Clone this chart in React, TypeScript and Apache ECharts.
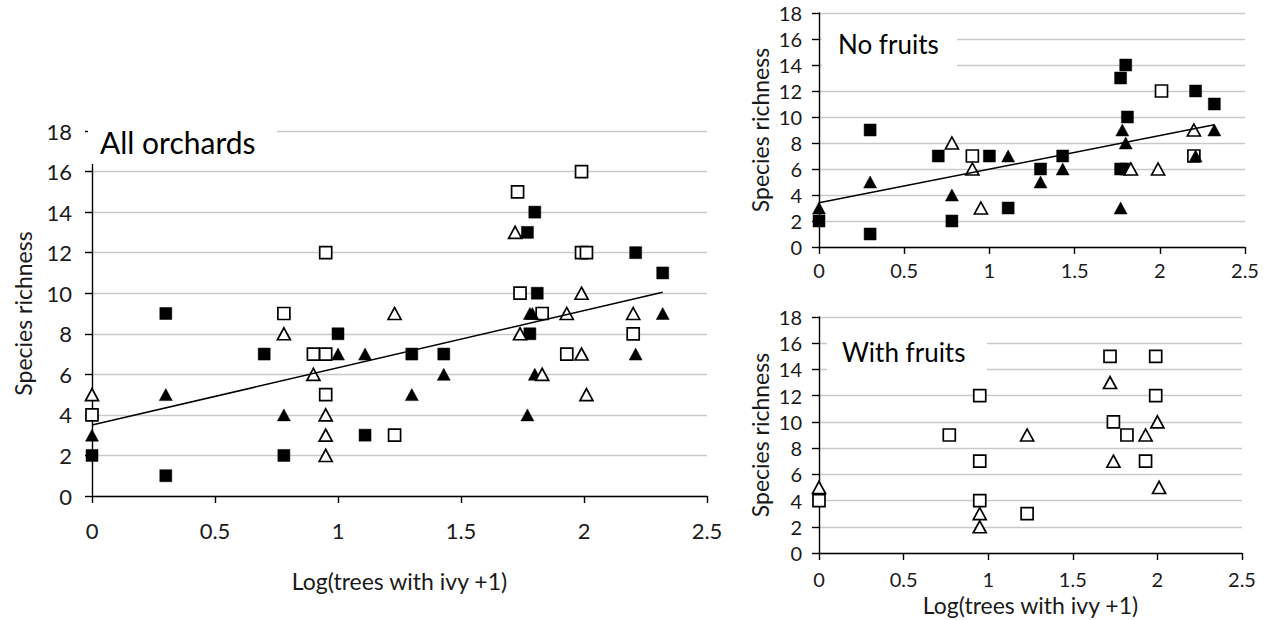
import React, { useEffect, useRef } from "react";
import * as echarts from "echarts";

// ---- All orchards ----
const allFilledSquare = [[0, 2], [0.3, 9], [0.3, 1], [0.7, 7], [0.78, 2], [1.0, 8], [1.11, 3], [1.3, 7], [1.43, 7], [1.77, 13], [1.8, 14], [1.81, 10], [1.78, 8], [2.21, 12], [2.32, 11]];
const allOpenSquare = [[0, 4], [0.78, 9], [0.9, 7], [0.95, 7], [0.95, 12], [0.95, 5], [1.23, 3], [1.73, 15], [1.99, 16], [1.99, 12], [2.01, 12], [1.74, 10], [1.83, 9], [2.2, 8], [1.93, 7]];
const allFilledTriangle = [[0, 3], [0.3, 5], [0.78, 4], [1.0, 7], [1.11, 7], [1.3, 5], [1.43, 6], [1.78, 9], [1.79, 9], [1.8, 6], [1.77, 4], [2.21, 7], [2.32, 9]];
const allOpenTriangle = [[0, 5], [0.78, 8], [0.9, 6], [0.95, 4], [0.95, 3], [0.95, 2], [1.23, 9], [1.72, 13], [1.74, 8], [1.83, 6], [1.93, 9], [1.99, 10], [1.99, 7], [2.01, 5], [2.2, 9]];
const allTrend = [[0, 3.5], [2.32, 10.05]];

// ---- No fruits ----
const nfFilledSquare = [[0, 2], [0.3, 9], [0.3, 1], [0.7, 7], [0.78, 2], [1.0, 7], [1.11, 3], [1.3, 6], [1.43, 7], [1.77, 13], [1.8, 14], [1.81, 10], [1.77, 6], [1.8, 6], [2.21, 12], [2.32, 11]];
const nfOpenSquare = [[0.9, 7], [2.01, 12], [2.2, 7]];
const nfFilledTriangle = [[0, 3], [0.3, 5], [0.78, 4], [1.11, 7], [1.3, 5], [1.43, 6], [1.78, 9], [1.8, 8], [1.77, 3], [2.21, 7], [2.32, 9]];
const nfOpenTriangle = [[0.78, 8], [0.9, 6], [0.95, 3], [1.83, 6], [1.99, 6], [2.2, 9]];
const nfTrend = [[0, 3.4], [2.32, 9.4]];

// ---- With fruits ----
const wfOpenSquare = [[0, 4], [0.77, 9], [0.95, 12], [0.95, 7], [0.95, 4], [1.23, 3], [1.72, 15], [1.99, 15], [1.99, 12], [1.74, 10], [1.82, 9], [1.93, 7]];
const wfOpenTriangle = [[0, 5], [0.95, 3], [0.95, 2], [1.23, 9], [1.72, 13], [2.0, 10], [1.93, 9], [1.74, 7], [2.01, 5]];

const panelTitles = ["All orchards", "No fruits", "With fruits"];
const xAxisName = "Log(trees with ivy +1)";
const yAxisName = "Species richness";

const FONT = "Lato, 'DejaVu Sans', sans-serif";
const TXT = "#1a1a1a";
const NAME_FS = 23;

function sc(data: number[][], idx: number, symbol: string, filled: boolean) {
  const tri = symbol === "triangle";
  return {
    type: "scatter",
    xAxisIndex: idx,
    yAxisIndex: idx,
    data,
    symbol,
    symbolSize: tri ? [13, 12] : 12,
    clip: false,
    z: 3,
    itemStyle: filled
      ? { color: "#000", borderColor: "#000", borderWidth: 0.5, opacity: 1 }
      : { color: "#fff", borderColor: "#000", borderWidth: 1.7, opacity: 1 },
  };
}

function trend(data: number[][], idx: number) {
  return {
    type: "line",
    xAxisIndex: idx,
    yAxisIndex: idx,
    data,
    symbol: "none",
    lineStyle: { color: "#000", width: 1.5 },
    z: 4,
  };
}

function xAx(idx: number, fs: number, margin: number, name: string, nameGap: number) {
  return {
    type: "value",
    gridIndex: idx,
    min: 0,
    max: 2.5,
    interval: 0.5,
    name,
    nameLocation: "middle",
    nameGap,
    nameTextStyle: { fontFamily: FONT, fontSize: NAME_FS, color: TXT },
    axisLine: { show: true, onZero: false, lineStyle: { color: "#000", width: 1.4 } },
    axisTick: { show: true, length: 7, lineStyle: { color: "#000", width: 1.4 } },
    axisLabel: { fontFamily: FONT, fontSize: fs, color: TXT, margin },
    splitLine: { show: false },
  };
}

function yAx(idx: number, fs: number, margin: number, nameGap: number) {
  return {
    type: "value",
    gridIndex: idx,
    min: 0,
    max: 18,
    interval: 2,
    name: yAxisName,
    nameLocation: "middle",
    nameGap,
    nameTextStyle: { fontFamily: FONT, fontSize: NAME_FS, color: TXT },
    axisLine: { show: true, lineStyle: { color: "#000", width: 1.4 } },
    axisTick: { show: true, length: 7, lineStyle: { color: "#000", width: 1.4 } },
    axisLabel: { fontFamily: FONT, fontSize: fs, color: TXT, margin },
    splitLine: { show: true, lineStyle: { color: "#c9c9c9", width: 1.4 } },
  };
}

function titleBox(x: number, y: number, w: number, h: number, text: string, tx: number, ty: number, fs: number) {
  return [
    { type: "rect", shape: { x, y, width: w, height: h }, style: { fill: "#fff" }, z: 10 },
    {
      type: "text",
      x: tx,
      y: ty,
      z: 11,
      style: { text, fill: "#000", font: `${fs}px ${FONT}`, textVerticalAlign: "middle", verticalAlign: "middle" },
    },
  ];
}

export default function App() {
  const ref = useRef<HTMLDivElement>(null);
  useEffect(() => {
    document.body.style.margin = "0";
    const chart = echarts.init(ref.current!, null, { renderer: "svg" });
    chart.setOption({
      animation: false,
      backgroundColor: "#fff",
      grid: [
        { left: 92, top: 131, width: 615, height: 365 },
        { left: 819, top: 13, width: 426, height: 234 },
        { left: 819, top: 317, width: 423, height: 236 },
      ],
      xAxis: [
        xAx(0, 22, 23, xAxisName, 73),
        xAx(1, 20, 13, "", 30),
        xAx(2, 20, 16, xAxisName, 40),
      ],
      yAxis: [yAx(0, 22, 20, 58), yAx(1, 20, 17, 48), yAx(2, 20, 17, 48)],
      series: [
        trend(allTrend, 0),
        sc(allFilledSquare, 0, "rect", true),
        sc(allOpenSquare, 0, "rect", false),
        sc(allFilledTriangle, 0, "triangle", true),
        sc(allOpenTriangle, 0, "triangle", false),
        trend(nfTrend, 1),
        sc(nfFilledSquare, 1, "rect", true),
        sc(nfOpenSquare, 1, "rect", false),
        sc(nfFilledTriangle, 1, "triangle", true),
        sc(nfOpenTriangle, 1, "triangle", false),
        sc(wfOpenSquare, 2, "rect", false),
        sc(wfOpenTriangle, 2, "triangle", false),
      ],
      graphic: [
        ...titleBox(88, 118, 189, 46, panelTitles[0], 100, 142, 30),
        ...titleBox(822, 27, 135, 45, panelTitles[1], 838, 44, 26),
        ...titleBox(827, 333, 160, 45, panelTitles[2], 842, 352, 26),
      ],
    });
    return () => chart.dispose();
  }, []);
  return <div ref={ref} style={{ width: 1273, height: 620 }} />;
}
